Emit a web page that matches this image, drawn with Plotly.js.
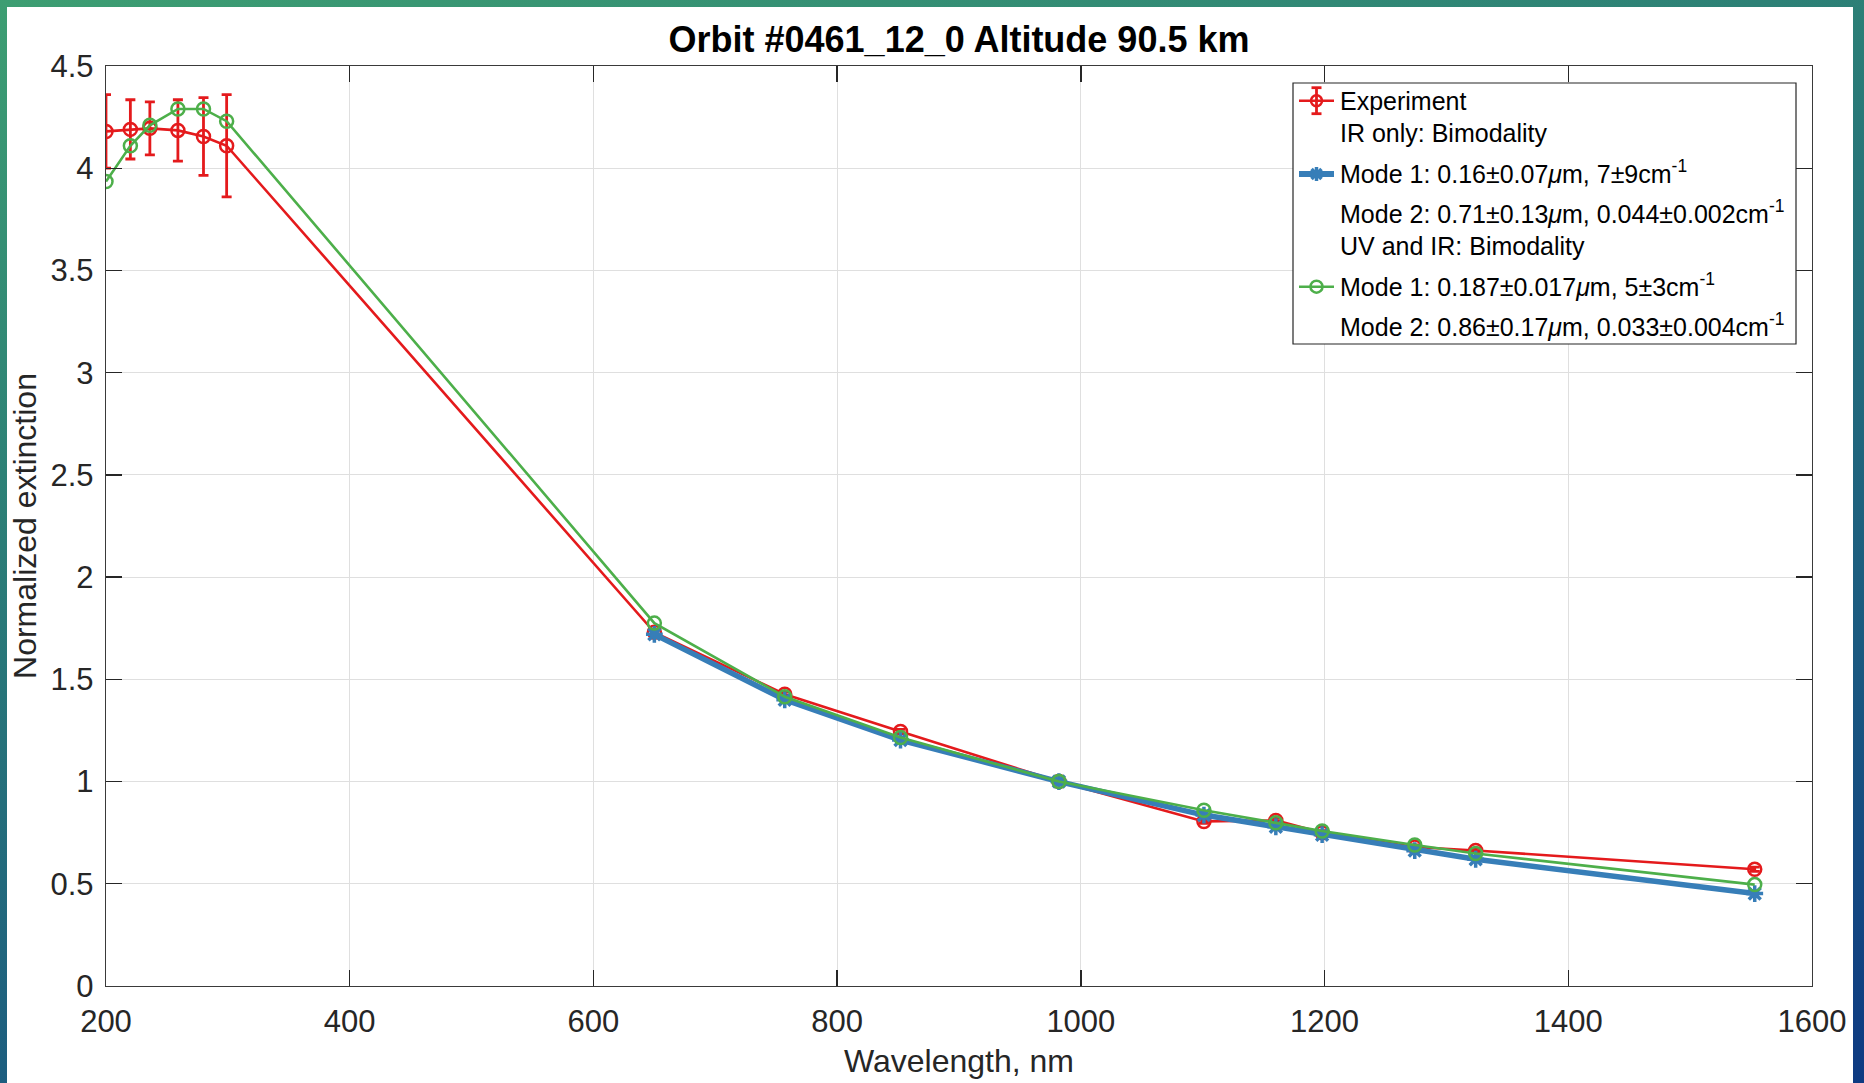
<!DOCTYPE html>
<html>
<head>
<meta charset="utf-8">
<script src="https://cdn.plot.ly/plotly-3.0.1.min.js"></script>
<style>
  html, body { margin: 0; padding: 0; width: 1864px; height: 1083px; overflow: hidden; }
  body { background: linear-gradient(165deg, #3d9e72 0%, #2d8176 30%, #1b5a80 72%, #0e3a82 100%); }
  #sheet { position: absolute; left: 7px; top: 7px; width: 1846px; height: 1076px; background: #ffffff; }
  #chart { position: absolute; left: 0; top: 0; width: 1864px; height: 1083px; }
</style>
</head>
<body>
<div id="sheet"></div>
<div id="chart"></div>
<script>
// Wavelengths (nm)
const wavelengthsUV = [200, 220, 236, 259, 280, 299];
const wavelengthsIR = [650, 757, 852, 982, 1101, 1160, 1198, 1274, 1324, 1553];

// Measured normalized extinction with uncertainties
const experimentUV = [4.18, 4.19, 4.195, 4.185, 4.155, 4.11];
const experimentUVErr = [0.18, 0.145, 0.13, 0.15, 0.19, 0.25];
const experimentIR = [1.73, 1.427, 1.245, 1.0, 0.805, 0.81, 0.75, 0.68, 0.663, 0.571];
const experimentIRErr = [0.01, 0.01, 0.01, 0.01, 0.01, 0.01, 0.01, 0.01, 0.01, 0.01];

// Bimodal fit to IR channels only
const fitIROnly = [1.72, 1.40, 1.203, 1.0, 0.836, 0.779, 0.74, 0.662, 0.62, 0.452];

// Bimodal fit to UV and IR channels
const fitUVIR_UV = [3.935, 4.11, 4.21, 4.29, 4.29, 4.23];
const fitUVIR_IR = [1.775, 1.415, 1.215, 1.0, 0.86, 0.798, 0.758, 0.69, 0.648, 0.496];

// Axis ticks
const xTicks = [200, 400, 600, 800, 1000, 1200, 1400, 1600];
const yTicks = [0, 0.5, 1, 1.5, 2, 2.5, 3, 3.5, 4, 4.5];

// Legend lines
const legendLines = [
  'Experiment',
  'IR only: Bimodality',
  'Mode 1: 0.16±0.07<i>μ</i>m, 7±9cm<sup>-1</sup>',
  'Mode 2: 0.71±0.13<i>μ</i>m, 0.044±0.002cm<sup>-1</sup>',
  'UV and IR: Bimodality',
  'Mode 1: 0.187±0.017<i>μ</i>m, 5±3cm<sup>-1</sup>',
  'Mode 2: 0.86±0.17<i>μ</i>m, 0.033±0.004cm<sup>-1</sup>'
];

const RED = '#e41a1c', BLUE = '#377eb8', GREEN = '#4daf4a', INK = '#262626';
const FONT = 'Liberation Sans, Arial, Helvetica, sans-serif';

const W = 1864, H = 1083;
const M = { l: 106, r: 52, t: 66, b: 97 };
const PW = W - M.l - M.r, PH = H - M.t - M.b;
// page pixel -> paper fraction
const fx = p => (p - M.l) / PW;
const fy = p => (H - M.b - p) / PH;

const allWl = wavelengthsUV.concat(wavelengthsIR);

const traces = [
  {
    name: 'Experiment',
    x: allWl,
    y: experimentUV.concat(experimentIR),
    error_y: { type: 'data', array: experimentUVErr.concat(experimentIRErr), visible: true,
               color: RED, thickness: 2.8, width: 5 },
    mode: 'lines+markers',
    line: { color: RED, width: 2.6 },
    marker: { symbol: 'circle-open', size: 13, color: RED, line: { width: 2.5, color: RED } },
    showlegend: false
  },
  {
    name: 'IR only',
    x: wavelengthsIR,
    y: fitIROnly,
    mode: 'lines+markers',
    line: { color: BLUE, width: 5.5 },
    marker: { symbol: 'asterisk-open', size: 14, color: BLUE, line: { width: 3.5, color: BLUE } },
    showlegend: false
  },
  {
    name: 'UV and IR',
    x: allWl,
    y: fitUVIR_UV.concat(fitUVIR_IR),
    mode: 'lines+markers',
    line: { color: GREEN, width: 2.6 },
    marker: { symbol: 'circle-open', size: 13, color: GREEN, line: { width: 2.5, color: GREEN } },
    showlegend: false
  }
];

// Legend box, samples and labels
const box = { x0: 1293, x1: 1796, y0: 83, y1: 344 };
const symX0 = 1299, symX1 = 1334, symXc = (symX0 + symX1) / 2;
const redY = 100.7, blueY = 174, greenY = 286.7;
const baselines = [110.7, 142.7, 183.3, 223.3, 256, 296.7, 336.7];

const seg = (xa, ya, xb, yb, color, width) => ({
  type: 'line', xref: 'paper', yref: 'paper',
  x0: fx(xa), y0: fy(ya), x1: fx(xb), y1: fy(yb),
  line: { color: color, width: width }
});
const ring = (xc, yc, r, color, width) => ({
  type: 'circle', xref: 'paper', yref: 'paper',
  x0: fx(xc - r), x1: fx(xc + r), y0: fy(yc + r), y1: fy(yc - r),
  line: { color: color, width: width }, fillcolor: 'rgba(0,0,0,0)'
});

const shapes = [
  { type: 'rect', xref: 'paper', yref: 'paper',
    x0: fx(box.x0), x1: fx(box.x1), y0: fy(box.y1), y1: fy(box.y0),
    line: { color: INK, width: 1.2 }, fillcolor: '#ffffff' },
  // Experiment sample
  seg(symX0, redY, symX1, redY, RED, 2.6),
  seg(symXc, redY - 13, symXc, redY + 13, RED, 2.8),
  seg(symXc - 5, redY - 13, symXc + 5, redY - 13, RED, 2.8),
  seg(symXc - 5, redY + 13, symXc + 5, redY + 13, RED, 2.8),
  ring(symXc, redY, 5.5, RED, 2.5),
  // IR-only fit sample
  seg(symX0, blueY, symX1, blueY, BLUE, 6),
  seg(symXc - 7, blueY, symXc + 7, blueY, BLUE, 3.5),
  seg(symXc, blueY - 7, symXc, blueY + 7, BLUE, 3.5),
  seg(symXc - 5, blueY - 5, symXc + 5, blueY + 5, BLUE, 3.5),
  seg(symXc - 5, blueY + 5, symXc + 5, blueY - 5, BLUE, 3.5),
  // UV+IR fit sample
  seg(symX0, greenY, symX1, greenY, GREEN, 2.6),
  ring(symXc, greenY, 6, GREEN, 2.5)
];

const annotations = legendLines.map((t, i) => ({
  text: t, xref: 'paper', yref: 'paper',
  x: fx(1338), y: fy(baselines[i] + 6.3),
  xanchor: 'left', yanchor: 'bottom', showarrow: false,
  font: { family: FONT, size: 25, color: '#000000' }
}));

const axisCommon = {
  showline: true, linecolor: '#3a3a3a', linewidth: 1.3, mirror: 'ticks',
  ticks: 'inside', ticklen: 16, tickwidth: 1.3, tickcolor: INK,
  showgrid: true, gridcolor: '#dfdfdf', gridwidth: 1,
  zeroline: false, tickfont: { family: FONT, size: 31, color: INK },
  automargin: false, fixedrange: true
};

const layout = {
  width: W, height: H,
  margin: M,
  paper_bgcolor: 'rgba(0,0,0,0)',
  plot_bgcolor: '#ffffff',
  showlegend: false,
  title: {
    text: 'Orbit #0461_12_0 Altitude 90.5 km',
    font: { family: FONT, size: 36, color: '#000000', weight: 'bold' },
    x: 0.5, xref: 'paper', xanchor: 'center',
    y: 1 - 39 / H, yref: 'container', yanchor: 'middle'
  },
  xaxis: Object.assign({}, axisCommon, {
    range: [200, 1600], tickmode: 'array', tickvals: xTicks, ticktext: xTicks.map(String),
    ticklabelstandoff: 7,
    title: { text: 'Wavelength, nm', font: { family: FONT, size: 32, color: INK }, standoff: 12 }
  }),
  yaxis: Object.assign({}, axisCommon, {
    range: [0, 4.5], tickmode: 'array', tickvals: yTicks, ticktext: yTicks.map(String),
    ticklabelstandoff: 5,
    title: { text: 'Normalized extinction', font: { family: FONT, size: 32, color: INK }, standoff: 4 }
  }),
  shapes: shapes,
  annotations: annotations
};

Plotly.newPlot('chart', traces, layout, { displayModeBar: false, staticPlot: true });
</script>
</body>
</html>
